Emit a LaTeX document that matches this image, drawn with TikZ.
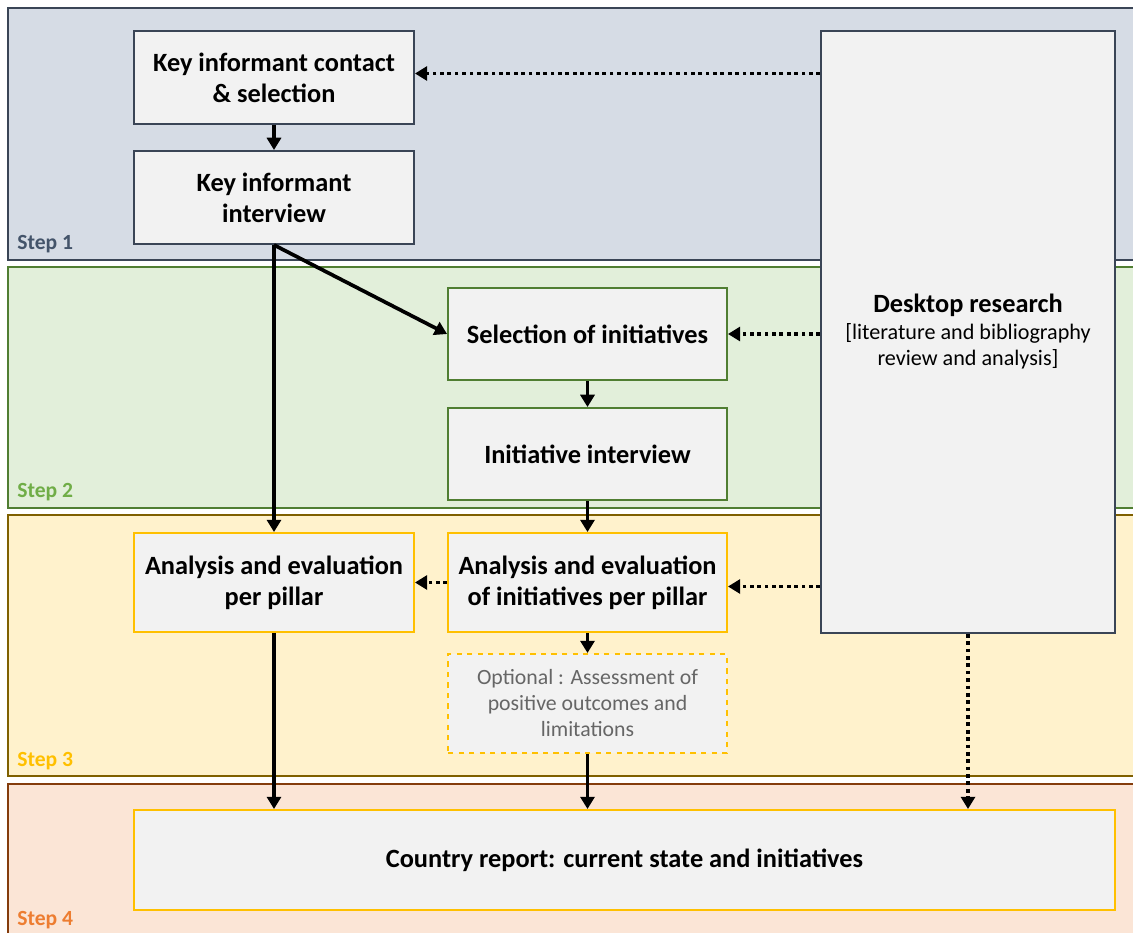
\documentclass[tikz,border=0pt]{standalone}
\usepackage{fontspec}
\setmainfont{Carlito}
\usepackage{xcolor}
\usetikzlibrary{calc,arrows.meta}
\definecolor{slate}{HTML}{3A4556}
\definecolor{bandA}{HTML}{D6DCE5}
\definecolor{bandB}{HTML}{E2EFDA}
\definecolor{bandC}{HTML}{FFF2CC}
\definecolor{bandD}{HTML}{FBE5D6}
\definecolor{lineB}{HTML}{507E32}
\definecolor{lineC}{HTML}{7F6000}
\definecolor{lineD}{HTML}{843C0C}
\definecolor{gold}{HTML}{FFC000}
\definecolor{boxbg}{HTML}{F2F2F2}
\definecolor{labA}{HTML}{44546A}
\definecolor{labB}{HTML}{70AD47}
\definecolor{labD}{HTML}{ED7D31}
\definecolor{greytext}{HTML}{666666}
\newcommand{\plain}{\mdseries\fontsize{12.6}{14.8}\selectfont}
\tikzset{
  band/.style={line width=1.2pt},
  blk/.style={draw, fill=boxbg, line width=1.1pt, align=center, inner sep=2pt,
    minimum width=5.6cm, minimum height=1.86cm, font=\fontsize{15}{17.6}\selectfont\bfseries},
  opt/.style={blk, dashed, draw=gold, text=greytext, font=\fontsize{12.4}{14.8}\selectfont},
  lab/.style={anchor=base west, inner sep=0pt, font=\fontsize{12.3}{14}\selectfont\bfseries},
  flow/.style={draw=black, line width=2.1pt, -{Triangle[length=7pt,width=8pt]}},
  feed/.style={flow, dash pattern=on 2.1pt off 2.1pt},
}
\begin{document}
\begin{tikzpicture}[x=0.02cm, y=-0.02cm]
  \useasboundingbox (0,0) rectangle (1133,933);
  % step bands
  \draw[band, draw=slate, fill=bandA] (8,8) rectangle (1145,260);
  \draw[band, draw=lineB, fill=bandB] (8,267) rectangle (1145,508);
  \draw[band, draw=lineC, fill=bandC] (8,515) rectangle (1145,776);
  \draw[band, draw=lineD, fill=bandD] (8,784) rectangle (1145,950);
  \node[lab, text=labA] (s1) at (17,249) {Step 1};
  \node[lab, text=labB] (s2) at (17,497) {Step 2};
  \node[lab, text=gold] (s3) at (17,766) {Step 3};
  \node[lab, text=labD] (s4) at (17,925) {Step 4};
  % boxes
  \node[blk, draw=slate] (kic) at (274,77.5) {Key informant contact\\\& selection};
  \node[blk, draw=slate] (kii) at (274,197.5) {Key informant\\interview};
  \node[blk, draw=lineB, minimum width=5.58cm, minimum height=1.84cm] (sel) at (587.5,334) {Selection of initiatives};
  \node[blk, draw=lineB, minimum width=5.58cm, minimum height=1.84cm] (ii) at (587.5,454) {Initiative interview};
  \node[blk, draw=gold, minimum height=1.98cm] (aep) at (274,582.5) {Analysis and evaluation\\per pillar};
  \node[blk, draw=gold, minimum width=5.58cm, minimum height=1.98cm] (aei) at (587.5,582.5) {Analysis and evaluation\\of initiatives per pillar};
  \node[opt, minimum width=5.58cm, minimum height=1.98cm] (opt) at (587.5,703.5) {Optional : Assessment of\\positive outcomes and\\limitations};
  \node[blk, draw=slate, minimum width=5.88cm, minimum height=12.04cm] (desk) at (968,332)
    {Desktop research\\[-2.5pt]\plain [literature and bibliography\\[-2.5pt]\plain review and analysis]};
  \node[blk, draw=gold, minimum width=19.62cm, minimum height=2cm] (rep) at (624.5,860) {Country report: current state and initiatives};
  % solid flow
  \draw[flow] (kic) -- (kii);
  \draw[flow] (kii.south) -- (sel.west);
  \draw[flow] (kii.south) -- (aep.north);
  \draw[flow] (sel) -- (ii);
  \draw[flow] (ii) -- (aei);
  \draw[flow] (aei) -- (opt);
  \draw[flow] (opt) -- (rep.north -| opt);
  \draw[flow] (aep) -- (rep.north -| aep);
  % dotted feeds from desktop research
  \draw[feed] ($(desk.west |- kic.east)+(0,-4)$) -- ($(kic.east)+(0,-4)$);
  \draw[feed] (desk.west |- sel.east) -- (sel.east);
  \draw[feed] ($(desk.west |- aei.east)+(0,4)$) -- ($(aei.east)+(0,4)$);
  \draw[feed] (aei.west) -- (aep.east);
  \draw[feed] (desk.south) -- (desk.south |- rep.north);
\end{tikzpicture}
\end{document}
